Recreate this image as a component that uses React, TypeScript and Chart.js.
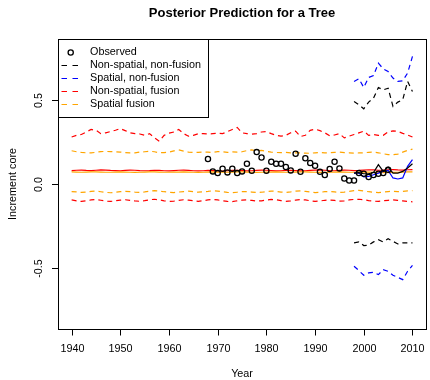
import React, { useEffect, useRef } from "react";
import { Chart, registerables } from "chart.js";

Chart.register(...registerables);

const TITLE = "Posterior Prediction for a Tree";
const X_LABEL = "Year";
const Y_LABEL = "Increment core";
const X_TICKS = [1940, 1950, 1960, 1970, 1980, 1990, 2000, 2010];
const Y_TICKS = [-0.5, 0, 0.5];
const Y_TICK_LABELS = ["-0.5", "0.0", "0.5"];
const X_MIN = 1937.2;
const X_MAX = 2012.8;
const Y_MIN = -0.864;
const Y_MAX = 0.864;

const LEGEND_LABELS = [
  "Observed",
  "Non-spatial, non-fusion",
  "Spatial, non-fusion",
  "Non-spatial, fusion",
  "Spatial fusion",
];
const LEGEND_COLORS = ["#000000", "#000000", "#0000ff", "#ff0000", "#ffa500"];

// full period 1940-2010
const YEARS_ALL = [
  1940, 1941, 1942, 1943, 1944, 1945, 1946, 1947, 1948, 1949,
  1950, 1951, 1952, 1953, 1954, 1955, 1956, 1957, 1958, 1959,
  1960, 1961, 1962, 1963, 1964, 1965, 1966, 1967, 1968, 1969,
  1970, 1971, 1972, 1973, 1974, 1975, 1976, 1977, 1978, 1979,
  1980, 1981, 1982, 1983, 1984, 1985, 1986, 1987, 1988, 1989,
  1990, 1991, 1992, 1993, 1994, 1995, 1996, 1997, 1998, 1999,
  2000, 2001, 2002, 2003, 2004, 2005, 2006, 2007, 2008, 2009,
  2010,
];

// Non-spatial, fusion (red)
const RED_UPPER = [
  0.280, 0.290, 0.295, 0.310, 0.325, 0.320, 0.300, 0.305, 0.313, 0.320,
  0.330, 0.318, 0.305, 0.300, 0.298, 0.290, 0.300, 0.275, 0.255, 0.290,
  0.303, 0.310, 0.325, 0.300, 0.285, 0.290, 0.300, 0.300, 0.298, 0.300,
  0.302, 0.300, 0.312, 0.325, 0.337, 0.305, 0.300, 0.297, 0.300, 0.310,
  0.312, 0.300, 0.290, 0.285, 0.290, 0.305, 0.315, 0.283, 0.290, 0.320,
  0.327, 0.318, 0.305, 0.288, 0.292, 0.300, 0.275, 0.285, 0.295, 0.305,
  0.315, 0.290, 0.295, 0.290, 0.290, 0.310, 0.317, 0.313, 0.302, 0.292,
  0.280,
];
const RED_MEAN = [
  0.080, 0.082, 0.083, 0.081, 0.080, 0.082, 0.084, 0.083, 0.081, 0.080,
  0.079, 0.081, 0.083, 0.082, 0.080, 0.079, 0.080, 0.082, 0.081, 0.079,
  0.078, 0.080, 0.082, 0.083, 0.081, 0.079, 0.078, 0.079, 0.081, 0.080,
  0.078, 0.077, 0.079, 0.081, 0.082, 0.080, 0.078, 0.079, 0.081, 0.083,
  0.082, 0.080, 0.078, 0.079, 0.081, 0.082, 0.080, 0.078, 0.079, 0.081,
  0.083, 0.084, 0.082, 0.080, 0.079, 0.081, 0.083, 0.082, 0.080, 0.081,
  0.083, 0.085, 0.084, 0.082, 0.083, 0.085, 0.086, 0.084, 0.083, 0.085,
  0.086,
];
const RED_LOWER = [
  -0.095, -0.100, -0.104, -0.100, -0.095, -0.093, -0.097, -0.102, -0.104, -0.100,
  -0.096, -0.094, -0.097, -0.101, -0.103, -0.099, -0.094, -0.091, -0.095, -0.100,
  -0.104, -0.102, -0.097, -0.094, -0.096, -0.100, -0.103, -0.099, -0.095, -0.092,
  -0.095, -0.100, -0.104, -0.105, -0.100, -0.096, -0.094, -0.098, -0.102, -0.100,
  -0.096, -0.092, -0.094, -0.099, -0.103, -0.101, -0.096, -0.093, -0.095, -0.100,
  -0.104, -0.101, -0.097, -0.095, -0.098, -0.102, -0.100, -0.095, -0.092, -0.091,
  -0.094, -0.099, -0.102, -0.104, -0.100, -0.097, -0.095, -0.098, -0.101, -0.104,
  -0.106,
];

// Spatial fusion (orange)
const ORANGE_UPPER = [
  0.198, 0.192, 0.188, 0.186, 0.185, 0.189, 0.193, 0.194, 0.193, 0.192,
  0.190, 0.187, 0.185, 0.186, 0.190, 0.192, 0.196, 0.192, 0.186, 0.187,
  0.190, 0.197, 0.203, 0.196, 0.190, 0.188, 0.188, 0.190, 0.190, 0.188,
  0.193, 0.192, 0.188, 0.191, 0.190, 0.192, 0.199, 0.203, 0.198, 0.200,
  0.194, 0.190, 0.188, 0.187, 0.188, 0.186, 0.185, 0.185, 0.184, 0.183,
  0.186, 0.188, 0.186, 0.186, 0.189, 0.190, 0.187, 0.186, 0.184, 0.185,
  0.186, 0.189, 0.190, 0.186, 0.180, 0.175, 0.175, 0.178, 0.190, 0.200,
  0.208,
];
const ORANGE_MEAN = [
  0.072, 0.071, 0.070, 0.071, 0.072, 0.072, 0.071, 0.070, 0.070, 0.071,
  0.072, 0.071, 0.070, 0.069, 0.070, 0.071, 0.072, 0.072, 0.071, 0.070,
  0.070, 0.071, 0.071, 0.072, 0.071, 0.070, 0.069, 0.070, 0.071, 0.072,
  0.071, 0.070, 0.070, 0.071, 0.072, 0.072, 0.071, 0.070, 0.069, 0.070,
  0.071, 0.071, 0.072, 0.071, 0.070, 0.070, 0.071, 0.072, 0.072, 0.071,
  0.070, 0.069, 0.069, 0.070, 0.071, 0.072, 0.071, 0.070, 0.070, 0.071,
  0.072, 0.071, 0.070, 0.069, 0.068, 0.068, 0.069, 0.070, 0.071, 0.072,
  0.072,
];
const ORANGE_LOWER = [
  -0.045, -0.047, -0.050, -0.048, -0.044, -0.042, -0.046, -0.050, -0.052, -0.049,
  -0.046, -0.044, -0.045, -0.048, -0.050, -0.047, -0.043, -0.040, -0.042, -0.046,
  -0.049, -0.051, -0.048, -0.045, -0.043, -0.046, -0.049, -0.047, -0.044, -0.040,
  -0.042, -0.046, -0.050, -0.052, -0.049, -0.046, -0.045, -0.048, -0.051, -0.049,
  -0.045, -0.042, -0.044, -0.048, -0.050, -0.047, -0.043, -0.041, -0.044, -0.048,
  -0.051, -0.049, -0.046, -0.044, -0.047, -0.050, -0.048, -0.044, -0.040, -0.038,
  -0.042, -0.046, -0.049, -0.051, -0.048, -0.045, -0.043, -0.046, -0.044, -0.041,
  -0.040,
];

// observed increments 1968-2005
const YEARS_OBS = [
  1968, 1969, 1970, 1971, 1972, 1973, 1974, 1975, 1976, 1977,
  1978, 1979, 1980, 1981, 1982, 1983, 1984, 1985, 1986, 1987,
  1988, 1989, 1990, 1991, 1992, 1993, 1994, 1995, 1996, 1997,
  1998, 1999, 2000, 2001, 2002, 2003, 2004, 2005,
];
const OBSERVED = [
  0.149, 0.075, 0.065, 0.091, 0.069, 0.091, 0.065, 0.075, 0.121, 0.079,
  0.190, 0.158, 0.079, 0.133, 0.121, 0.121, 0.101, 0.081, 0.180, 0.073,
  0.153, 0.125, 0.109, 0.073, 0.054, 0.089, 0.133, 0.093, 0.033, 0.021,
  0.021, 0.065, 0.061, 0.042, 0.054, 0.061, 0.065, 0.085,
];

// non-fusion predictions 1998-2010
const YEARS_PRED = [1998, 1999, 2000, 2001, 2002, 2003, 2004, 2005, 2006, 2007, 2008, 2009, 2010];
const BLACK_UPPER = [0.492, 0.472, 0.448, 0.488, 0.512, 0.575, 0.561, 0.571, 0.462, 0.488, 0.502, 0.611, 0.551];
const BLACK_MEAN = [0.065, 0.068, 0.061, 0.061, 0.068, 0.115, 0.075, 0.101, 0.065, 0.065, 0.075, 0.095, 0.121];
const BLACK_LOWER = [-0.351, -0.345, -0.367, -0.365, -0.345, -0.332, -0.345, -0.326, -0.342, -0.357, -0.351, -0.351, -0.351];
const BLUE_UPPER = [0.611, 0.627, 0.575, 0.635, 0.646, 0.720, 0.686, 0.670, 0.631, 0.611, 0.615, 0.661, 0.760];
const BLUE_MEAN = [0.065, 0.065, 0.042, 0.045, 0.055, 0.065, 0.075, 0.081, 0.036, 0.030, 0.036, 0.105, 0.145];
const BLUE_LOWER = [-0.490, -0.516, -0.544, -0.530, -0.526, -0.540, -0.510, -0.520, -0.544, -0.556, -0.570, -0.520, -0.485];

const FONT = '"Liberation Sans", Arial, Helvetica, sans-serif';
const DASH = [5, 4];

const pts = (xs: number[], ys: number[]) => xs.map((x, i) => ({ x, y: ys[i] }));

const lineDs = (label: string, xs: number[], ys: number[], color: string, dashed: boolean) => ({
  label,
  data: pts(xs, ys),
  borderColor: color,
  backgroundColor: color,
  borderWidth: 1.2,
  borderDash: dashed ? DASH : [],
  pointRadius: 0,
  fill: false,
  tension: 0,
});

const decorPlugin = {
  id: "decor",
  afterDraw(chart: any) {
    const ctx = chart.ctx as CanvasRenderingContext2D;
    const { left, right, top, bottom } = chart.chartArea;
    const xs = chart.scales.x;
    const ys = chart.scales.y;
    ctx.save();
    ctx.setLineDash([]);
    ctx.strokeStyle = "#000";
    ctx.fillStyle = "#000";
    ctx.lineWidth = 1;

    // plot box
    ctx.strokeRect(Math.round(left) + 0.5, Math.round(top) + 0.5, Math.round(right) - Math.round(left), Math.round(bottom) - Math.round(top));

    // x axis ticks and labels
    ctx.font = `10.8px ${FONT}`;
    ctx.textAlign = "center";
    ctx.textBaseline = "middle";
    X_TICKS.forEach((v) => {
      const px = Math.round(xs.getPixelForValue(v)) + 0.5;
      ctx.beginPath();
      ctx.moveTo(px, Math.round(bottom));
      ctx.lineTo(px, Math.round(bottom) + 6.5);
      ctx.stroke();
      ctx.fillText(String(v), px, bottom + 20);
    });

    // y axis ticks and rotated labels
    Y_TICKS.forEach((v, i) => {
      const py = Math.round(ys.getPixelForValue(v)) + 0.5;
      ctx.beginPath();
      ctx.moveTo(Math.round(left) - 6, py);
      ctx.lineTo(Math.round(left), py);
      ctx.stroke();
      ctx.save();
      ctx.translate(left - 19, py);
      ctx.rotate(-Math.PI / 2);
      ctx.fillText(Y_TICK_LABELS[i], 0, 0);
      ctx.restore();
    });

    // axis titles
    const cx = (left + right) / 2;
    const cy = (top + bottom) / 2;
    ctx.fillText(X_LABEL, cx, bottom + 45);
    ctx.save();
    ctx.translate(13, cy);
    ctx.rotate(-Math.PI / 2);
    ctx.fillText(Y_LABEL, 0, 0);
    ctx.restore();

    // main title
    ctx.font = `bold 13px ${FONT}`;
    ctx.fillText(TITLE, cx, 13);

    // legend
    const lx = Math.round(left) + 0.5;
    const ly = Math.round(top) + 0.5;
    const lw = 150;
    const lh = 78;
    ctx.fillStyle = "#fff";
    ctx.fillRect(lx, ly, lw, lh);
    ctx.strokeStyle = "#000";
    ctx.strokeRect(lx, ly, lw, lh);
    ctx.font = `10.8px ${FONT}`;
    ctx.textAlign = "left";
    LEGEND_LABELS.forEach((lab, i) => {
      const y = ly + 13 + i * 13;
      const col = LEGEND_COLORS[i];
      if (i === 0) {
        ctx.setLineDash([]);
        ctx.strokeStyle = col;
        ctx.lineWidth = 1.3;
        ctx.beginPath();
        ctx.arc(lx + 12.2, y, 2.6, 0, Math.PI * 2);
        ctx.stroke();
      } else {
        ctx.setLineDash([5.5, 5.5]);
        ctx.strokeStyle = col;
        ctx.lineWidth = 1.2;
        ctx.beginPath();
        ctx.moveTo(lx + 3, y);
        ctx.lineTo(lx + 20, y);
        ctx.stroke();
      }
      ctx.setLineDash([]);
      ctx.fillStyle = "#000";
      ctx.fillText(lab, lx + 31.5, y);
    });
    ctx.restore();
  },
};

export default function App() {
  const ref = useRef<HTMLCanvasElement | null>(null);
  useEffect(() => {
    if (!ref.current) return;
    const chart = new Chart(ref.current, {
      type: "line",
      data: {
        datasets: [
          {
            label: "Observed",
            data: pts(YEARS_OBS, OBSERVED),
            showLine: false,
            pointRadius: 2.6,
            pointHoverRadius: 2.6,
            pointBorderWidth: 1.3,
            pointBorderColor: "#000",
            pointBackgroundColor: "rgba(0,0,0,0)",
            borderColor: "#000",
            backgroundColor: "rgba(0,0,0,0)",
          } as any,
          lineDs("Non-spatial, non-fusion mean", YEARS_PRED, BLACK_MEAN, "#000000", false),
          lineDs("Spatial, non-fusion mean", YEARS_PRED, BLUE_MEAN, "#0000ff", false),
          lineDs("Non-spatial, non-fusion upper", YEARS_PRED, BLACK_UPPER, "#000000", true),
          lineDs("Non-spatial, non-fusion lower", YEARS_PRED, BLACK_LOWER, "#000000", true),
          lineDs("Spatial, non-fusion upper", YEARS_PRED, BLUE_UPPER, "#0000ff", true),
          lineDs("Spatial, non-fusion lower", YEARS_PRED, BLUE_LOWER, "#0000ff", true),
          lineDs("Spatial fusion mean", YEARS_ALL, ORANGE_MEAN, "#ffa500", false),
          lineDs("Non-spatial, fusion mean", YEARS_ALL, RED_MEAN, "#ff0000", false),
          lineDs("Spatial fusion upper", YEARS_ALL, ORANGE_UPPER, "#ffa500", true),
          lineDs("Spatial fusion lower", YEARS_ALL, ORANGE_LOWER, "#ffa500", true),
          lineDs("Non-spatial, fusion upper", YEARS_ALL, RED_UPPER, "#ff0000", true),
          lineDs("Non-spatial, fusion lower", YEARS_ALL, RED_LOWER, "#ff0000", true),
        ],
      },
      options: {
        animation: false,
        responsive: false,
        maintainAspectRatio: false,
        layout: { padding: { left: 58, right: 0.8, top: 39, bottom: 51 } },
        plugins: { legend: { display: false }, tooltip: { enabled: false }, title: { display: false } },
        events: [],
        scales: {
          x: { type: "linear", min: X_MIN, max: X_MAX, display: false },
          y: { type: "linear", min: Y_MIN, max: Y_MAX, display: false },
        },
      },
      plugins: [decorPlugin],
    });
    return () => chart.destroy();
  }, []);
  return (
    <div style={{ position: "absolute", left: 0, top: 0, width: 430, height: 380, background: "#fff" }}>
      <canvas ref={ref} width={430} height={380} />
    </div>
  );
}
